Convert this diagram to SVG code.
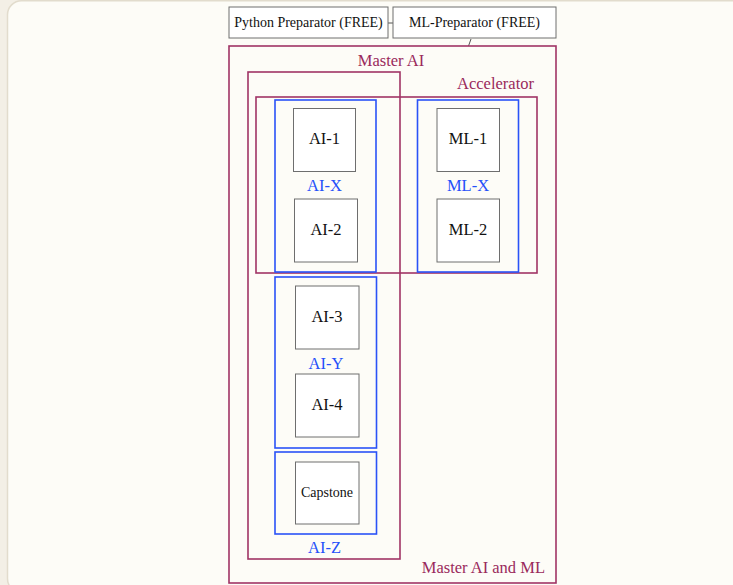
<svg xmlns="http://www.w3.org/2000/svg" width="733" height="585" viewBox="0 0 733 585">
<style>
.bg{fill:#f3efe6}
.card{fill:#fdfcf7;stroke:#e2dccd;stroke-width:1.5}
.clm{fill:none;stroke:#a03465;stroke-width:1.6}
.clb{fill:none;stroke:#2a52f7;stroke-width:1.6}
.node{fill:#ffffff;stroke:#6e6e6e;stroke-width:1}
.t{font-family:"Liberation Serif","Times New Roman",serif;fill:#111}
.tm{font-family:"Liberation Serif","Times New Roman",serif;fill:#9a2a5c;font-size:16.5px}
.tb{font-family:"Liberation Serif","Times New Roman",serif;fill:#2550fa;font-size:16.5px;text-anchor:middle}
.c{stroke:#555;stroke-width:1;fill:none}
</style>
<rect class="bg" x="0" y="0" width="733" height="585"/>
<rect class="card" x="7.5" y="0.75" width="740" height="592" rx="14"/>

<g id="connectors">
<line class="c" x1="388" y1="23" x2="393" y2="23"/>
<line class="c" x1="471" y1="39" x2="468.5" y2="46"/>
</g>

<g id="python-preparator">
<rect class="node" x="229" y="7" width="159" height="31"/>
<text class="t" x="308.5" y="27" font-size="14" text-anchor="middle">Python Preparator (FREE)</text>
</g>
<g id="ml-preparator">
<rect class="node" x="393" y="7" width="163" height="31"/>
<text class="t" x="474.5" y="27" font-size="14" text-anchor="middle">ML-Preparator (FREE)</text>
</g>

<g id="master-ai-and-ml">
<rect class="clm" x="229" y="46" width="327" height="537"/>
<text class="tm" x="545" y="573" text-anchor="end">Master AI and ML</text>
</g>
<g id="master-ai">
<rect class="clm" x="248" y="72" width="152" height="487"/>
<text class="tm" x="391" y="66" text-anchor="middle">Master AI</text>
</g>
<g id="accelerator">
<rect class="clm" x="256" y="97" width="281" height="176"/>
<text class="tm" x="534" y="88.5" text-anchor="end">Accelerator</text>
</g>

<g id="ai-x">
<rect class="clb" x="275" y="100" width="101" height="172"/>
<text class="tb" x="324.5" y="191">AI-X</text>
</g>
<g id="ml-x">
<rect class="clb" x="417.5" y="100" width="101" height="172"/>
<text class="tb" x="468" y="191">ML-X</text>
</g>
<g id="ai-y">
<rect class="clb" x="275" y="277" width="101.5" height="171"/>
<text class="tb" x="326" y="369">AI-Y</text>
</g>
<g id="ai-z">
<rect class="clb" x="275" y="452" width="101.5" height="82"/>
<text class="tb" x="324.5" y="553">AI-Z</text>
</g>

<g id="ai-1">
<rect class="node" x="293.5" y="108.5" width="62" height="63"/>
<text class="t" x="324.5" y="144" font-size="16.5" text-anchor="middle">AI-1</text>
</g>
<g id="ai-2">
<rect class="node" x="294.5" y="199" width="63" height="63"/>
<text class="t" x="326" y="234.5" font-size="16.5" text-anchor="middle">AI-2</text>
</g>
<g id="ml-1">
<rect class="node" x="437" y="108.5" width="62.5" height="63"/>
<text class="t" x="468" y="144" font-size="16.5" text-anchor="middle">ML-1</text>
</g>
<g id="ml-2">
<rect class="node" x="437" y="199" width="62.5" height="63"/>
<text class="t" x="468" y="234.5" font-size="16.5" text-anchor="middle">ML-2</text>
</g>
<g id="ai-3">
<rect class="node" x="295.5" y="286" width="63.5" height="63"/>
<text class="t" x="327" y="321.5" font-size="16.5" text-anchor="middle">AI-3</text>
</g>
<g id="ai-4">
<rect class="node" x="295.5" y="374" width="63.5" height="63"/>
<text class="t" x="327" y="409.5" font-size="16.5" text-anchor="middle">AI-4</text>
</g>
<g id="capstone">
<rect class="node" x="295.5" y="462" width="63.5" height="62"/>
<text class="t" x="327" y="497" font-size="14" text-anchor="middle">Capstone</text>
</g>
</svg>
